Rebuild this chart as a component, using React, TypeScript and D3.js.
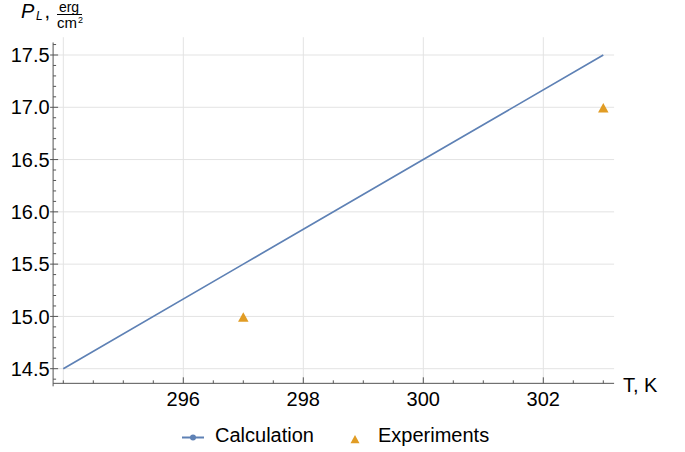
import React from "react";
import * as d3 from "d3";

const calcT = [294, 297, 300, 303];
const calcP = [14.5, 15.5, 16.5, 17.5];
const expT = [297, 303];
const expP = [15.0, 17.0];
const xMajorTicks = [296, 298, 300, 302];
const xGridTicks = [294, 296, 298, 300, 302];
const yMajorTicks = [14.5, 15.0, 15.5, 16.0, 16.5, 17.0, 17.5];
const seriesNames = ["Calculation", "Experiments"];

const BLUE = "#5E81B5";
const ORANGE = "#E19C24";
const FONT = "'Liberation Sans', Arial, sans-serif";

export default function App() {
  const W = 685, H = 452;
  const x = d3.scaleLinear().domain([294, 303]).range([63.3, 603.3]);
  const y = d3.scaleLinear().domain([14.5, 17.5]).range([368.7, 55]);
  const xAxisMin = 293.83, xAxisMax = 303.18;
  const yAxisMin = 14.36, yAxisMax = 17.62, yGridMax = 17.67;
  const axisY = y(yAxisMin);
  const axisX = x(xAxisMin);

  const xMinor = d3.range(294, 303.01, 0.5).filter(v => !xMajorTicks.includes(v));
  const yMinor = d3.range(14.4, 17.61, 0.1).map(v => Math.round(v * 10) / 10)
    .filter(v => !yMajorTicks.some(m => Math.abs(m - v) < 1e-6));

  const line = d3.line<number>().x((_, i) => x(calcT[i])).y(d => y(d));
  const tri = (cx: number, cy: number, s: number) => {
    const h = s * 0.9;
    return `M${cx},${cy - h * 0.55}L${cx + s / 2},${cy + h * 0.45}L${cx - s / 2},${cy + h * 0.45}Z`;
  };

  return (
    <svg width={W} height={H} style={{ position: "absolute", left: 0, top: 0, background: "#fff" }}
      fontFamily={FONT}>
      {/* grid */}
      <g stroke="#e3e3e3" strokeWidth={1}>
        {xGridTicks.map(t => (
          <line key={"gx" + t} x1={x(t)} x2={x(t)} y1={axisY} y2={y(yGridMax)} />
        ))}
        {yMajorTicks.map(t => (
          <line key={"gy" + t} x1={axisX} x2={x(xAxisMax)} y1={y(t)} y2={y(t)} />
        ))}
      </g>
      {/* axes */}
      <g stroke="#555" strokeWidth={1}>
        <line x1={axisX} x2={x(xAxisMax)} y1={axisY} y2={axisY} />
        <line x1={axisX} x2={axisX} y1={axisY + 3} y2={y(yAxisMax)} />
        {xMajorTicks.map(t => (
          <line key={"xt" + t} x1={x(t)} x2={x(t)} y1={axisY} y2={axisY - 6} />
        ))}
        {xMinor.map(t => (
          <line key={"xm" + t} x1={x(t)} x2={x(t)} y1={axisY} y2={axisY - 3} />
        ))}
        {yMajorTicks.map(t => (
          <line key={"yt" + t} x1={axisX - 3} x2={axisX + 5} y1={y(t)} y2={y(t)} />
        ))}
        {yMinor.map(t => (
          <line key={"ym" + t} x1={axisX} x2={axisX + 3} y1={y(t)} y2={y(t)} />
        ))}
      </g>
      {/* tick labels */}
      <g fontSize={20} fill="#000">
        {xMajorTicks.map(t => (
          <text key={"xl" + t} x={x(t)} y={axisY + 22.7} textAnchor="middle">{t}</text>
        ))}
        {yMajorTicks.map(t => (
          <text key={"yl" + t} x={axisX - 3.5} y={y(t) + 7.2} textAnchor="end">{t.toFixed(1)}</text>
        ))}
        <text x={623} y={axisY + 8.4}>T, K</text>
      </g>
      {/* y label */}
      <g fill="#000">
        <text x={21} y={17.5} fontSize={20} fontStyle="italic">P</text>
        <text x={36} y={20} fontSize={12} fontStyle="italic">L</text>
        <text x={44.5} y={17.5} fontSize={20}>,</text>
        <text x={69} y={12} fontSize={14} textAnchor="middle">erg</text>
        <line x1={57} x2={82} y1={14.5} y2={14.5} stroke="#000" strokeWidth={1} />
        <text x={57} y={28} fontSize={15}>cm</text>
        <text x={78} y={23} fontSize={9}>2</text>
      </g>
      {/* data */}
      <path d={line(calcP) || ""} fill="none" stroke={BLUE} strokeWidth={1.7} />
      {expT.map((t, i) => (
        <path key={"e" + t} d={tri(x(t), y(expP[i]) + 1, 10.5)} fill={ORANGE} />
      ))}
      {/* legend */}
      <g>
        <line x1={182} x2={204} y1={437.5} y2={437.5} stroke={BLUE} strokeWidth={2} />
        <circle cx={193} cy={437.5} r={3} fill={BLUE} />
        <text x={215} y={442.3} fontSize={20} fill="#000">{seriesNames[0]}</text>
        <path d={tri(355, 439.5, 9)} fill={ORANGE} />
        <text x={378} y={442.3} fontSize={20} fill="#000">{seriesNames[1]}</text>
      </g>
    </svg>
  );
}
